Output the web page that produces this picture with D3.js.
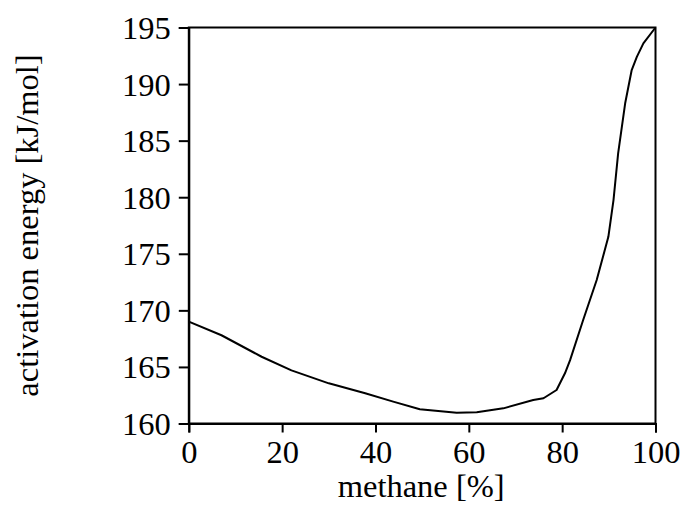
<!DOCTYPE html>
<html>
<head>
<meta charset="utf-8">
<script src="https://cdn.jsdelivr.net/npm/d3@7"></script>
<style>
  html, body { margin: 0; padding: 0; background: #fff; }
  svg { display: block; }
  text { font-family: "Liberation Serif", "Times New Roman", serif; fill: #000; }
</style>
</head>
<body>
<script>
// Activation energy versus methane fraction
const methanePct = [0, 7, 15.6, 22, 30, 37.8, 43.8, 49.5, 57.4, 61.7, 67.4, 73.8, 76, 78.8, 80.6, 81.7, 84.5, 87.4, 89.9, 91, 92, 93.5, 94.9, 96, 97.4, 100];
const energy = [169.0, 167.8, 165.9, 164.7, 163.55, 162.67, 161.93, 161.26, 160.95, 160.99, 161.34, 162.08, 162.23, 162.96, 164.44, 165.6, 169.15, 172.68, 176.5, 179.75, 183.9, 188.3, 191.24, 192.4, 193.6, 195.0];
const xTicks = [0, 20, 40, 60, 80, 100];
const yTicks = [160, 165, 170, 175, 180, 185, 190, 195];
const xTitle = "methane [%]";
const yTitle = "activation energy [kJ/mol]";

const W = 683, H = 506;
const m = { left: 188.8, right: W - 655.5, top: 27.5, bottom: H - 423.5 };
const iw = W - m.left - m.right, ih = H - m.top - m.bottom;

const svg = d3.select("body").append("svg").attr("width", W).attr("height", H);
const g = svg.append("g").attr("transform", `translate(${m.left},${m.top})`);

const x = d3.scaleLinear().domain([0, 100]).range([0, iw]);
const y = d3.scaleLinear().domain([160, 195]).range([ih, 0]);

// frame (top and right edges)
g.append("rect").attr("x", 0).attr("y", 0).attr("width", iw).attr("height", ih)
  .attr("fill", "none").attr("stroke", "#000").attr("stroke-width", 2);

const tickFs = 32.5, titleFs = 32.5;
const xa = g.append("g").attr("transform", `translate(0,${ih})`)
  .call(d3.axisBottom(x).tickValues(xTicks).tickFormat(d3.format("d")).tickSize(9).tickPadding(7));
const ya = g.append("g")
  .call(d3.axisLeft(y).tickValues(yTicks).tickFormat(d3.format("d")).tickSize(10).tickPadding(8));
[xa, ya].forEach(a => {
  a.selectAll(".domain").attr("stroke", "#000").attr("stroke-width", 2);
  a.selectAll(".tick line").attr("stroke", "#000").attr("stroke-width", 2);
  a.selectAll(".tick text").style("font-family", '"Liberation Serif", "Times New Roman", serif')
    .style("font-size", tickFs + "px").attr("fill", "#000");
});
ya.selectAll(".tick text").attr("dy", "0.34em");

// curve
const line = d3.line().x((d, i) => x(methanePct[i])).y(d => y(d));
g.append("path").datum(energy).attr("d", line)
  .attr("fill", "none").attr("stroke", "#000").attr("stroke-width", 2)
  .attr("stroke-linejoin", "round");

// axis titles
svg.append("text").attr("x", m.left + iw / 2 - 1).attr("y", 497)
  .attr("text-anchor", "middle").style("font-size", titleFs + "px").text(xTitle);
svg.append("text").attr("transform", `translate(38,${m.top + ih / 2}) rotate(-90)`)
  .attr("text-anchor", "middle").style("font-size", titleFs + "px").text(yTitle);
</script>
</body>
</html>
